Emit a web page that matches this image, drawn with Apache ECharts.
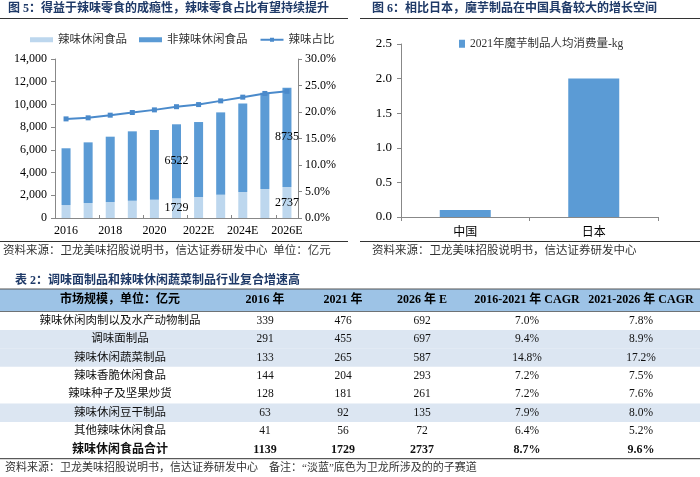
<!DOCTYPE html>
<html><head><meta charset="utf-8">
<script src="https://cdn.jsdelivr.net/npm/echarts@6/dist/echarts.min.js"></script>
<style>html,body{margin:0;padding:0;background:#fff}#c{width:700px;height:477px}</style>
</head><body><div id="c"></div>
<script>
// ---- Figure 5 data ----
const years = ['2016','2017','2018','2019','2020','2021','2022E','2023E','2024E','2025E','2026E'];
const spicy = [1139, 1320, 1410, 1520, 1610, 1729, 1850, 2050, 2290, 2550, 2737];
const nonSpicy = [5000, 5340, 5750, 6110, 6140, 6522, 6600, 7250, 7800, 8480, 8735];
const spicyRatio = [18.7, 18.9, 19.4, 19.9, 20.4, 21.0, 21.4, 22.1, 22.8, 23.5, 23.9];
const labelledIdx = [5, 10];
// ---- Figure 6 data ----
const countries = ['中国', '日本'];
const konjac = [0.1, 2.0];
// ---- Table 2 data ----
const tableHeader = ['市场规模，单位：亿元', '2016 年', '2021 年', '2026 年 E', '2016-2021 年 CAGR', '2021-2026 年 CAGR'];
const rowNames = ['辣味休闲肉制以及水产动物制品', '调味面制品', '辣味休闲蔬菜制品', '辣味香脆休闲食品', '辣味种子及坚果炒货', '辣味休闲豆干制品', '其他辣味休闲食品', '辣味休闲食品合计'];
const size2016 = ['339', '291', '133', '144', '128', '63', '41', '1139'];
const size2021 = ['476', '455', '265', '204', '181', '92', '56', '1729'];
const size2026E = ['692', '697', '587', '293', '261', '135', '72', '2737'];
const cagr1621 = ['7.0%', '9.4%', '14.8%', '7.2%', '7.2%', '7.9%', '6.4%', '8.7%'];
const cagr2126 = ['7.8%', '8.9%', '17.2%', '7.5%', '7.6%', '8.0%', '5.2%', '9.6%'];
const highlightRows = [1, 2, 5];
const boldRows = [7];

const SERIF = "'Liberation Serif','Noto Sans CJK SC'";
const TITLE_C = '#1F3A68';
const DARK = '#5B9BD5', LIGHT = '#BDD7EE';

const chart = echarts.init(document.getElementById('c'), null, {renderer: 'canvas'});

function mkLabelData(arr) {
  return arr.map((v, i) => labelledIdx.includes(i) ? {value: v, label: {show: true}} : v);
}

const graphics = [];
function txt(x, y, s, font, fill, align, va) {
  graphics.push({type: 'text', x: x, y: y, silent: true,
    style: {text: s, font: font, fill: fill || '#000', align: align || 'left', verticalAlign: va || 'middle'}});
}
function line(x1, y1, x2, y2, color, w) {
  graphics.push({type: 'line', silent: true, shape: {x1, y1, x2, y2}, style: {stroke: color, lineWidth: w}});
}
function rect(x, y, w, h, color) {
  graphics.push({type: 'rect', silent: true, shape: {x, y, width: w, height: h}, style: {fill: color}, z: -1});
}

// titles & sources
txt(8, 9, '图 5：得益于辣味零食的成瘾性，辣味零食占比有望持续提升', "bold 12px " + SERIF, TITLE_C);
txt(372, 9, '图 6：相比日本，魔芋制品在中国具备较大的增长空间', "bold 12px " + SERIF, TITLE_C);
line(0, 18.5, 348, 18.5, '#333', 1.2);
line(360, 18.5, 700, 18.5, '#333', 1.2);
line(0, 241.5, 348, 241.5, '#333', 1.2);
line(360, 241.5, 700, 241.5, '#333', 1.2);
txt(3, 251, '资料来源：卫龙美味招股说明书，信达证券研发中心  单位：亿元', "11.5px " + SERIF, '#333');
txt(372, 251, '资料来源：卫龙美味招股说明书，信达证券研发中心', "11.5px " + SERIF, '#333');
txt(15, 281, '表 2：调味面制品和辣味休闲蔬菜制品行业复合增速高', "bold 12px " + SERIF, TITLE_C);

// table
const colX = [120, 265, 343, 422, 527, 641];
const headerTop = 289, headerH = 22.5, rowH = 18.4;
rect(0, headerTop, 700, headerH, '#9DC3E6');
line(0, headerTop, 700, headerTop, '#555', 1);
line(0, headerTop + headerH, 700, headerTop + headerH, '#555', 0.8);
tableHeader.forEach((h, c) => txt(colX[c], headerTop + headerH / 2, h, "bold 12px " + SERIF, '#000', 'center'));
const cols = [rowNames, size2016, size2021, size2026E, cagr1621, cagr2126];
rowNames.forEach((n, r) => {
  const top = headerTop + headerH + r * rowH;
  if (highlightRows.includes(r)) rect(0, top, 700, rowH, '#DCE6F2');
  const f = (boldRows.includes(r) ? 'bold ' : '') + (r === 7 ? '12px ' : '11.5px ') + SERIF;
  cols.forEach((col, c) => txt(colX[c], top + rowH / 2, col[r], f, '#111', 'center'));
});
const tableBottom = headerTop + headerH + rowNames.length * rowH;
line(0, tableBottom, 700, tableBottom, '#333', 1);
txt(5, tableBottom + 9.5, '资料来源：卫龙美味招股说明书，信达证券研发中心    备注：“淡蓝”底色为卫龙所涉及的的子赛道', "11px " + SERIF, '#333');

const axisLbl = {color: '#000', fontSize: 12, fontFamily: SERIF};
const axisLine = {show: true, lineStyle: {color: '#888', width: 1}};

chart.setOption({
  animation: false,
  textStyle: {fontFamily: SERIF},
  legend: [
    {left: 25, top: 29, itemWidth: 23, itemHeight: 5, itemGap: 12,
     textStyle: {fontSize: 11.5, color: '#333', fontFamily: SERIF},
     data: [{name: '辣味休闲食品', icon: 'rect'}, {name: '非辣味休闲食品', icon: 'rect'}, {name: '辣味占比'}]},
    {left: 454, top: 33, itemWidth: 6, itemHeight: 8, itemGap: 3,
     textStyle: {fontSize: 11.5, color: '#333', fontFamily: SERIF},
     data: [{name: '2021年魔芋制品人均消费量-kg', icon: 'rect'}]}
  ],
  grid: [
    {left: 55, right: 402, top: 59, bottom: 259},
    {left: 401, right: 42, top: 44, bottom: 260}
  ],
  xAxis: [
    {type: 'category', gridIndex: 0, data: years, axisLine: axisLine,
     axisTick: {show: true, inside: true, length: 3, lineStyle: {color: '#888'}},
     axisLabel: Object.assign({interval: 1, margin: 7}, axisLbl)},
    {type: 'category', gridIndex: 1, data: countries, axisLine: axisLine,
     axisTick: {show: true, length: 4, lineStyle: {color: '#888'}},
     axisLabel: Object.assign({margin: 8}, axisLbl, {fontFamily: "'Noto Sans CJK SC'"})}
  ],
  yAxis: [
    {type: 'value', gridIndex: 0, min: 0, max: 14000, interval: 2000, splitLine: {show: false},
     axisLine: axisLine, axisTick: {show: true, length: 4, lineStyle: {color: '#888'}},
     axisLabel: Object.assign({margin: 8, formatter: v => v.toLocaleString('en-US')}, axisLbl)},
    {type: 'value', gridIndex: 0, position: 'right', min: 0, max: 30, interval: 5, splitLine: {show: false},
     axisLine: axisLine, axisTick: {show: true, length: 4, lineStyle: {color: '#888'}},
     axisLabel: Object.assign({margin: 7, formatter: v => v.toFixed(1) + '%'}, axisLbl)},
    {type: 'value', gridIndex: 1, min: 0, max: 2.5, interval: 0.5, splitLine: {show: false},
     axisLine: axisLine, axisTick: {show: true, length: 4, lineStyle: {color: '#888'}},
     axisLabel: Object.assign({margin: 9, formatter: v => v.toFixed(1)}, axisLbl, {fontSize: 13})}
  ],
  series: [
    {name: '辣味休闲食品', type: 'bar', stack: 'a', xAxisIndex: 0, yAxisIndex: 0, barWidth: 9,
     itemStyle: {color: LIGHT}, data: mkLabelData(spicy),
     label: {show: false, position: 'inside', color: '#000', fontSize: 12, fontFamily: SERIF}},
    {name: '非辣味休闲食品', type: 'bar', stack: 'a', xAxisIndex: 0, yAxisIndex: 0, barWidth: 9,
     itemStyle: {color: DARK}, data: mkLabelData(nonSpicy),
     label: {show: false, position: 'inside', color: '#000', fontSize: 12, fontFamily: SERIF}},
    {name: '辣味占比', type: 'line', xAxisIndex: 0, yAxisIndex: 1, data: spicyRatio,
     symbol: 'rect', symbolSize: 5, lineStyle: {color: '#4A8ACB', width: 2},
     itemStyle: {color: '#4A8ACB'}},
    {name: '2021年魔芋制品人均消费量-kg', type: 'bar', xAxisIndex: 1, yAxisIndex: 2, barWidth: 51,
     itemStyle: {color: DARK}, data: konjac}
  ],
  graphic: graphics
});
</script></body></html>
